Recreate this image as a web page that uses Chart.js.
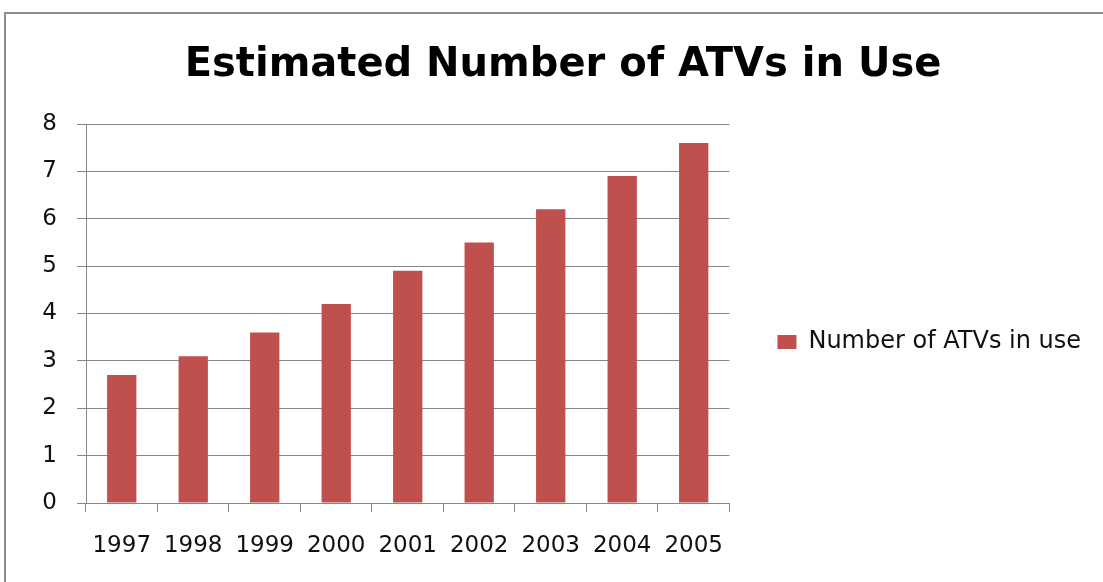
<!DOCTYPE html>
<html>
<head>
<meta charset="utf-8">
<script src="https://cdn.jsdelivr.net/npm/chart.js@4"></script>
<style>
  html, body { margin: 0; padding: 0; background: #fff; }
  #wrap { width: 1103px; height: 582px; }
</style>
</head>
<body>
<div id="wrap"><canvas id="atvChart" width="1103" height="582"></canvas></div>
<script>
// Data
const years = ['1997', '1998', '1999', '2000', '2001', '2002', '2003', '2004', '2005'];
const atvsInUse = [2.7, 3.1, 3.6, 4.2, 4.9, 5.5, 6.2, 6.9, 7.6];
const yTicks = [0, 1, 2, 3, 4, 5, 6, 7, 8];

// Outer frame like the pasted office chart
const frame = {
    id: 'frame',
    beforeDraw: (chart) => {
        const { ctx, width, height } = chart;
        ctx.save();
        ctx.fillStyle = '#fff';
        ctx.fillRect(0, 0, width, height);
        ctx.strokeStyle = '#8c8c8c';
        ctx.lineWidth = 2;
        ctx.beginPath();
        ctx.moveTo(5, height);
        ctx.lineTo(5, 13);
        ctx.lineTo(width, 13);
        ctx.stroke();
        ctx.restore();
    }
};

const tickFont = { family: "'DejaVu Sans'", size: 23 };

const ctx = document.getElementById('atvChart').getContext('2d');
new Chart(ctx, {
    type: 'bar',
    plugins: [frame],
    data: {
        labels: years,
        datasets: [{
            label: 'Number of ATVs in use',
            data: atvsInUse,
            backgroundColor: '#c0504d',
            borderWidth: 0,
            barPercentage: 0.41,
            categoryPercentage: 1
        }]
    },
    options: {
        responsive: false,
        animation: false,
        layout: { padding: { left: 35, right: 12, top: 20, bottom: 21 } },
        plugins: {
            title: {
                display: true,
                text: 'Estimated Number of ATVs in Use',
                color: '#000',
                font: { family: "'DejaVu Sans'", size: 40, weight: 'bold' },
                padding: { top: 22, bottom: 34 }
            },
            legend: {
                position: 'right',
                maxWidth: 600,
                // empty title only pushes the single entry down
                title: { display: true, text: '', font: { size: 10 }, padding: { top: 0, bottom: 91 } },
                labels: {
                    boxWidth: 19,
                    boxHeight: 14,
                    padding: 48,
                    color: '#111',
                    font: { family: "'DejaVu Sans'", size: 24 }
                }
            },
            tooltip: { enabled: false }
        },
        scales: {
            x: {
                afterFit: (axis) => { axis.height = 58; },
                grid: {
                    offset: true,
                    drawOnChartArea: false,
                    tickLength: 9,
                    color: '#878787'
                },
                border: { color: '#878787' },
                ticks: {
                    color: '#111',
                    padding: 20,
                    maxRotation: 0,
                    autoSkip: false,
                    font: tickFont
                }
            },
            y: {
                min: 0,
                max: 8,
                afterFit: (axis) => { axis.width = 51; },
                afterBuildTicks: (axis) => { axis.ticks = yTicks.map(v => ({ value: v })); },
                grid: { color: '#878787', tickLength: 9 },
                border: { color: '#878787' },
                ticks: {
                    color: '#111',
                    padding: 20,
                    font: tickFont
                }
            }
        }
    }
});
</script>
</body>
</html>
